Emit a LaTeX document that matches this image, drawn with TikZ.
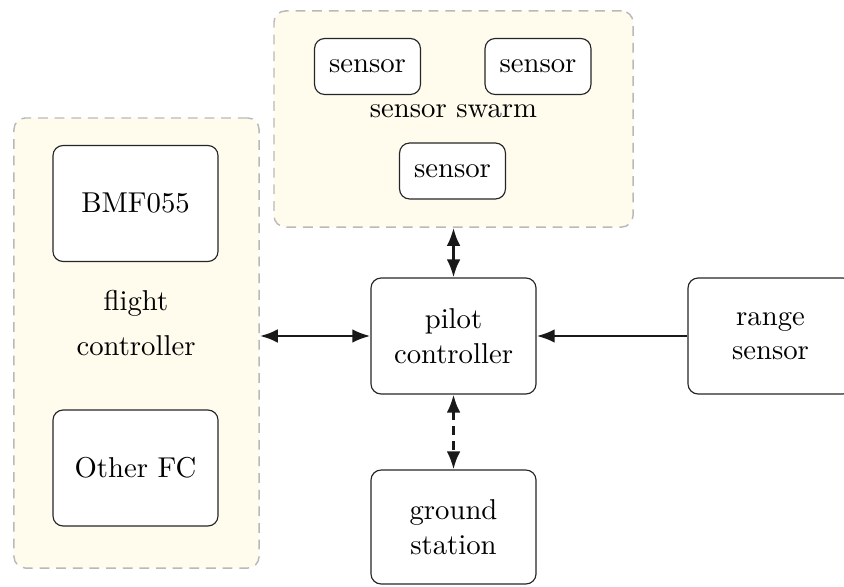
\documentclass[tikz,border=0pt]{standalone}
\usetikzlibrary{arrows.meta}
\definecolor{groupfill}{RGB}{255,251,237}
\definecolor{groupline}{RGB}{185,185,185}
\tikzset{
  block/.style={draw=black!85, thin, rounded corners=3.5pt, fill=white, align=center,
    inner sep=0pt, minimum width=57.5pt, minimum height=40.4pt},
  smallblock/.style={draw=black!85, thin, rounded corners=3.5pt, fill=white, align=center,
    inner sep=0pt, minimum width=36.9pt, minimum height=19.5pt},
  groupbox/.style={draw=groupline, fill=groupfill, dash pattern=on 3.4pt off 2.4pt,
    rounded corners=4pt, inner sep=0pt, line width=0.5pt},
  link/.style={line width=1pt, black!90},
  tip/.style={-{Latex[length=6.3pt,width=4.8pt]}},
  tips/.style={{Latex[length=6.3pt,width=4.8pt]}-{Latex[length=6.3pt,width=4.8pt]}},
}
\begin{document}
\begin{tikzpicture}[x=0.3484pt, y=-0.3484pt]
\useasboundingbox (0,0) rectangle (844,586);

% container regions
\node[groupbox, minimum width=85.4pt, minimum height=156.8pt] (fcgroup) at (136.5,343) {};
\node[groupbox, minimum width=125.1pt, minimum height=75.3pt] (swarm) at (453.5,119) {};

% flight controller contents
\node[block] (bmf) at (135.5,203.5) {BMF055};
\node[block] (other) at (135.5,468) {Other FC};
\node[align=center, inner sep=0pt] (fclabel) at (136,323) {flight\\[3.6pt]controller};

% sensor swarm contents
\node[smallblock] (s1) at (367.5,66.5) {sensor};
\node[smallblock] (s2) at (538,66.5) {sensor};
\node[smallblock] (s3) at (452.5,171) {sensor};
\node[inner sep=0pt] (swlabel) at (453.5,111) {sensor swarm};

% main blocks
\node[block] (pilot) at (453.5,336) {pilot\\controller};
\node[block] (range) at (770.5,336) {range\\sensor};
\node[block, minimum height=39.7pt] (ground) at (453.5,527) {ground\\station};

% connections
\draw[link, tips] (fcgroup.east |- pilot.west) -- (pilot.west);
\draw[link, tips] (swarm.south -| pilot.north) -- (pilot.north);
\draw[link, tips, dash pattern=on 3pt off 2.2pt] (pilot.south) -- (ground.north);
\draw[link, tip] (range.west) -- (pilot.east);
\end{tikzpicture}
\end{document}
